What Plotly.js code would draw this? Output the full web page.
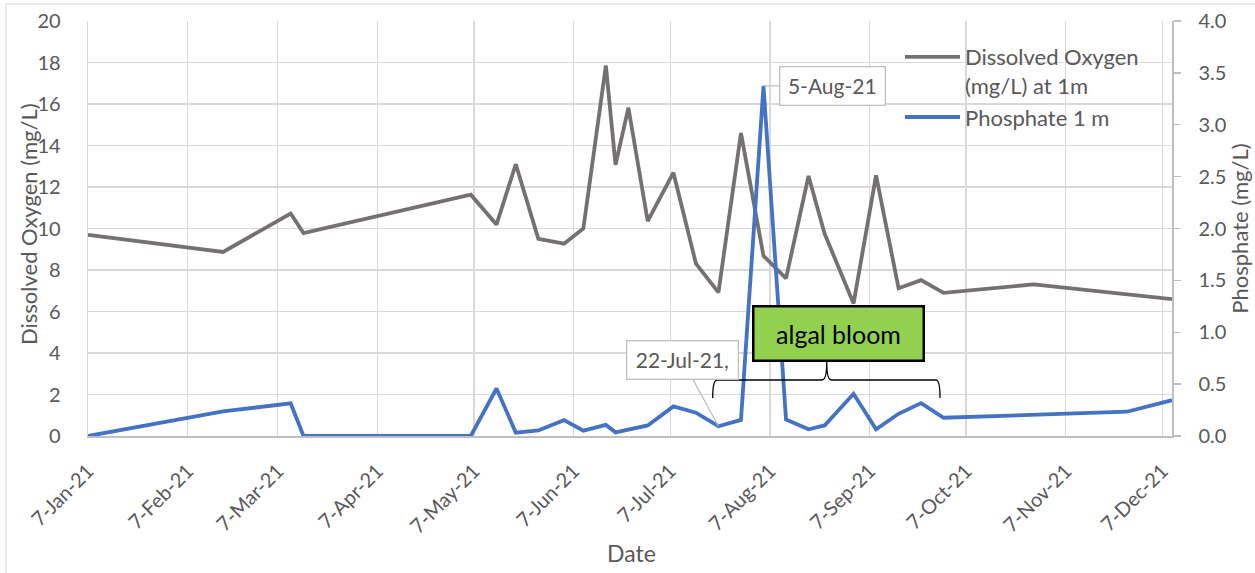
<!DOCTYPE html>
<html>
<head>
<meta charset="utf-8">
<script src="https://cdn.plot.ly/plotly-3.0.1.min.js"></script>
<style>
html,body{margin:0;padding:0;background:#fff;}
#chart{width:1255px;height:573px;}
</style>
</head>
<body>
<div id="chart"></div>
<script>
// Dissolved oxygen (mg/L) at 1 m
const doDates = ['2021-01-07','2021-02-18','2021-03-11','2021-03-15','2021-05-06','2021-05-14','2021-05-20','2021-05-27','2021-06-04','2021-06-10','2021-06-17','2021-06-20','2021-06-24','2021-06-30','2021-07-08','2021-07-15','2021-07-22','2021-07-29','2021-08-05','2021-08-12','2021-08-19','2021-08-24','2021-09-02','2021-09-09','2021-09-16','2021-09-23','2021-09-30','2021-10-28','2021-12-10'];
const doValues = [9.69,8.87,10.72,9.78,11.63,10.19,13.1,9.5,9.27,10.0,17.85,13.07,15.82,10.36,12.69,8.31,6.92,14.6,8.68,7.6,12.53,9.75,6.39,12.56,7.12,7.51,6.9,7.31,6.6];

// Phosphate (mg/L) at 1 m
const phDates = ['2021-01-07','2021-02-18','2021-03-11','2021-03-15','2021-05-06','2021-05-14','2021-05-20','2021-05-27','2021-06-04','2021-06-10','2021-06-17','2021-06-20','2021-06-30','2021-07-08','2021-07-15','2021-07-22','2021-07-29','2021-08-05','2021-08-12','2021-08-19','2021-08-24','2021-09-02','2021-09-09','2021-09-16','2021-09-23','2021-09-30','2021-11-26','2021-12-10'];
const phValues = [0,0.237,0.314,0,0,0.458,0.032,0.054,0.153,0.051,0.107,0.035,0.102,0.285,0.225,0.094,0.155,3.374,0.16,0.064,0.102,0.407,0.064,0.214,0.317,0.176,0.234,0.345];

const seriesNames = ['Dissolved Oxygen<br>(mg/L) at 1m', 'Phosphate 1 m'];
const yTitle = 'Dissolved Oxygen (mg/L)';
const y2Title = 'Phosphate (mg/L)';
const xTitle = 'Date';
const callout1 = {date:'2021-08-05', value:3.374, text:'5-Aug-21'};
const callout2 = {date:'2021-07-22', value:0.094, text:'22-Jul-21,'};
const bloomText = 'algal bloom';

const FONT = 'Lato, "Open Sans", sans-serif';
const GREY = '#595959';

// pixel -> paper helpers (plot area 88..1172 x, 21..436 y)
const L = 88, R = 1172, T = 21, B = 436;
const px = x => (x - L) / (R - L);
const py = y => (B - y) / (B - T);
const f = v => v.toFixed(4);

const brace = 'M ' + f(px(712.7)) + ' ' + f(py(398)) +
  ' Q ' + f(px(712.7)) + ' ' + f(py(380)) + ' ' + f(px(717)) + ' ' + f(py(380)) +
  ' L ' + f(px(822)) + ' ' + f(py(380)) +
  ' Q ' + f(px(826.7)) + ' ' + f(py(380)) + ' ' + f(px(826.7)) + ' ' + f(py(362)) +
  ' Q ' + f(px(826.7)) + ' ' + f(py(380)) + ' ' + f(px(831.4)) + ' ' + f(py(380)) +
  ' L ' + f(px(936)) + ' ' + f(py(380)) +
  ' Q ' + f(px(940)) + ' ' + f(py(380)) + ' ' + f(px(940)) + ' ' + f(py(398));

const traces = [
  {x: doDates, y: doValues, name: seriesNames[0], type:'scatter', mode:'lines',
   line:{color:'#767171', width:3.8}, yaxis:'y'},
  {x: phDates, y: phValues, name: seriesNames[1], type:'scatter', mode:'lines',
   line:{color:'#4472C4', width:3.8}, yaxis:'y2'}
];

const layout = {
  width:1255, height:573,
  margin:{l:L, r:1255-R, t:T, b:573-B, pad:0},
  paper_bgcolor:'#fff', plot_bgcolor:'#fff',
  font:{family:FONT, color:GREY, size:20},
  showlegend:true,
  legend:{x:px(900), y:py(36), xanchor:'left', yanchor:'top', bgcolor:'rgba(0,0,0,0)',
          font:{family:FONT, size:22, color:GREY}, valign:'top', itemwidth:55,
          tracegroupgap:0},
  xaxis:{
    type:'date', range:['2021-01-07','2021-12-10'],
    tick0:'2021-01-07', dtick:'M1', tickformat:'%-d-%b-%y', tickangle:-45,
    showgrid:true, gridcolor:'#d9d9d9', gridwidth:1.3,
    showline:true, linecolor:'#bfbfbf', linewidth:1.5,
    ticks:'', ticklabelstandoff:14, zeroline:false,
    tickfont:{family:FONT, size:20, color:GREY}
  },
  yaxis:{
    range:[0,20], dtick:2, showgrid:true, gridcolor:'#d9d9d9', gridwidth:1.3,
    showline:true, linecolor:'#d9d9d9', linewidth:1.3, zeroline:false, ticks:'',
    ticklabelstandoff:22,
    tickfont:{family:FONT, size:20, color:GREY}
  },
  yaxis2:{
    range:[0,4], dtick:0.5, tickformat:'.1f', overlaying:'y', side:'right',
    showgrid:false, zeroline:false, showline:true, linecolor:'#bfbfbf', linewidth:1.5,
    ticks:'outside', ticklen:7, tickcolor:'#bfbfbf', tickwidth:1.3, ticklabelstandoff:14,
    tickfont:{family:FONT, size:20, color:GREY},
    title:{text:y2Title, font:{family:FONT, size:22, color:GREY}, standoff:4}
  },
  annotations:[
    {x:px(28), y:py(224), xref:'paper', yref:'paper', text:yTitle, textangle:-90,
     showarrow:false, xanchor:'center', yanchor:'middle',
     font:{family:FONT, size:22, color:GREY}},
    {x:px(631), y:py(553), xref:'paper', yref:'paper', text:xTitle,
     showarrow:false, xanchor:'center', yanchor:'middle',
     font:{family:FONT, size:23, color:GREY}},
    {x:callout1.date, y:callout1.value, xref:'x', yref:'y2', text:callout1.text,
     showarrow:true, arrowhead:0, arrowwidth:1.3, arrowcolor:'#bfbfbf', ax:69, ay:0,
     bgcolor:'#fff', bordercolor:'#bfbfbf', borderwidth:1.3, borderpad:0,
     width:104, height:37, font:{family:FONT, size:21, color:GREY}},
    {x:callout2.date, y:callout2.value, xref:'x', yref:'y2', text:callout2.text,
     showarrow:true, arrowhead:0, arrowwidth:1.3, arrowcolor:'#bfbfbf', ax:-36, ay:-66,
     bgcolor:'#fff', bordercolor:'#bfbfbf', borderwidth:1.3, borderpad:0,
     width:110, height:37, font:{family:FONT, size:21, color:GREY}},
    {x:px(838), y:py(333), xref:'paper', yref:'paper', text:bloomText, showarrow:false,
     xanchor:'center', yanchor:'middle',
     bgcolor:'#92D050', bordercolor:'#000', borderwidth:2.5, borderpad:0,
     width:168, height:52, font:{family:FONT, size:25, color:'#000'}}
  ],
  shapes:[
    {type:'path', xref:'paper', yref:'paper', path:brace, line:{color:'#000', width:1.3}},
    {type:'rect', xref:'paper', yref:'paper', x0:px(6), x1:px(1262), y0:py(580), y1:py(4),
     line:{color:'#d9d9d9', width:1}, fillcolor:'rgba(0,0,0,0)', layer:'below'}
  ]
};

Plotly.newPlot('chart', traces, layout, {staticPlot:true, displayModeBar:false});
</script>
</body>
</html>
